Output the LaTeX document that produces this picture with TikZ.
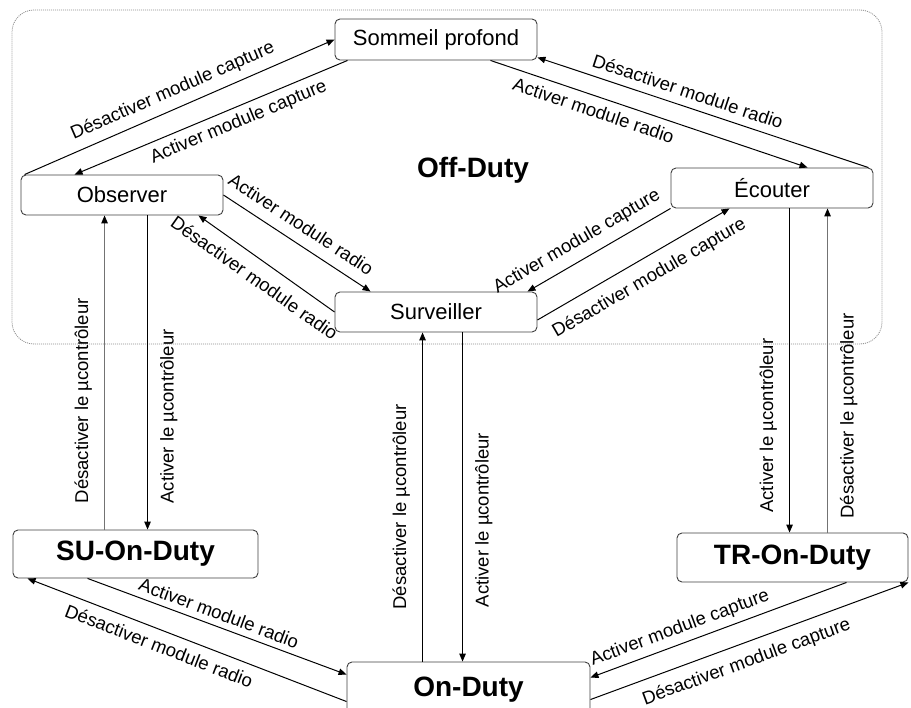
\documentclass[tikz,border=0pt]{standalone}
\usepackage{fontspec}
\setmainfont{Liberation Sans}
\usetikzlibrary{arrows.meta,calc}
\begin{document}
\begin{tikzpicture}[x=1pt,y=-1pt,
  region/.style={draw=black!45, line width=0.8pt, dash pattern=on 1pt off 1pt,
    rounded corners=22pt, minimum width=870pt, minimum height=334pt, inner sep=0pt},
  state/.style={draw=black!75, line width=0.9pt, rounded corners=5pt, fill=white,
    inner sep=0pt, font=\fontsize{22}{26}\selectfont},
  bigstate/.style={state, font=\fontsize{28}{32}\selectfont\bfseries},
  link/.style={draw=black, line width=1pt, -{Triangle[length=8pt,width=6.5pt,color=black]}},
  linkback/.style={draw=black, line width=1pt, {Triangle[length=8pt,width=6.5pt,color=black]}-},
  faint/.style={draw=black!55},
  lbl/.style={sloped, inner sep=3pt, font=\fontsize{18.5}{20}\selectfont},
]
\useasboundingbox (0,0) rectangle (911,708);

% Off-duty region
\node[region] (offduty) at (447,177) {};
\node[font=\fontsize{28}{32}\selectfont\bfseries] (offlabel) at (473,170) {Off-Duty};

% States
\node[state, minimum width=202pt, minimum height=41pt] (som)  at (436,39.5) {Sommeil profond};
\node[state, minimum width=202pt, minimum height=40pt] (obs)  at (122,195)  {Observer};
\node[state, minimum width=202pt, minimum height=40pt] (ec)   at (772,188)  {Écouter};
\node[state, minimum width=202pt, minimum height=40pt] (surv) at (436,312)  {Surveiller};
\node[bigstate, minimum width=245pt, minimum height=48pt] (su) at (135.5,554) {SU-On-Duty};
\node[bigstate, minimum width=231pt, minimum height=49pt] (tronduty) at (792.5,557.5) {TR-On-Duty};
\node[bigstate, minimum width=243pt, minimum height=56pt] (on) at (468.5,690) {On-Duty};

% Observer <-> Sommeil profond
\draw[link] ([xshift=4pt]obs.north west) -- (som.west)
  node[lbl, above=5pt, pos=0.5] {Désactiver module capture};
\draw[linkback] ([xshift=54pt]obs.north west) -- ([xshift=13pt]som.south west)
  node[lbl, below=3pt, pos=0.58] {Activer module capture};

% Sommeil profond <-> Ecouter
\draw[linkback] ([yshift=3pt]som.south east) -- ([xshift=-5pt]ec.north east)
  node[lbl, above=5pt, pos=0.44] {Désactiver module radio};
\draw[link] ([xshift=-47pt]som.south east) -- ([xshift=137pt]ec.north west)
  node[lbl, below=4pt, pos=0.34] {Activer module radio};

% Observer <-> Surveiller
\draw[link] (obs.east) -- ([xshift=36pt]surv.north west)
  node[lbl, above=8pt, pos=0.46] {Activer module radio};
\draw[linkback] ([xshift=-25pt]obs.south east) -- (surv.west)
  node[lbl, below=8pt, pos=0.49] {Désactiver module radio};

% Surveiller <-> Ecouter
\draw[linkback] ([xshift=-10pt]surv.north east) -- (ec.south west)
  node[lbl, above=6pt, pos=0.41] {Activer module capture};
\draw[link] ([yshift=-8pt]surv.east) -- ([xshift=59pt]ec.south west)
  node[lbl, below=8pt, pos=0.53] {Désactiver module capture};

% Vertical links between the off-duty states and the on-duty states
\coordinate (su1) at ([xshift=92pt]su.north west);
\coordinate (su2) at ([xshift=135pt]su.north west);
\coordinate (on1) at ([xshift=76pt]on.north west);
\coordinate (on2) at ([xshift=116pt]on.north west);
\coordinate (tr1) at ([xshift=113pt]tronduty.north west);
\coordinate (tr2) at ([xshift=151pt]tronduty.north west);

\draw[link, faint] (su1) -- (su1 |- obs.south)
  node[lbl, above=9pt, pos=0.41] {Désactiver le µcontrôleur};
\draw[linkback] (su2) -- (su2 |- obs.south)
  node[lbl, below=9pt, pos=0.36] {Activer le µcontrôleur};

\draw[link] (on1) -- (on1 |- surv.south)
  node[lbl, above=9pt, pos=0.47] {Désactiver le µcontrôleur};
\draw[linkback] (on2) -- (on2 |- surv.south)
  node[lbl, below=9pt, pos=0.43] {Activer le µcontrôleur};

\draw[linkback] (tr1) -- (tr1 |- ec.south)
  node[lbl, above=9pt, pos=0.33] {Activer le µcontrôleur};
\draw[link, faint] (tr2) -- (tr2 |- ec.south)
  node[lbl, below=9pt, pos=0.36] {Désactiver le µcontrôleur};

% SU-On-Duty <-> On-Duty
\draw[link] ([xshift=75pt]su.south west) -- ([yshift=-13pt]on.north west)
  node[lbl, above=3pt, pos=0.49] {Activer module radio};
\draw[linkback] ([xshift=15pt]su.south west) -- ([yshift=-40pt]on.north west)
  node[lbl, below=5pt, pos=0.43] {Désactiver module radio};

% On-Duty <-> TR-On-Duty
\draw[linkback] ([yshift=-16pt]on.north east) -- ([xshift=170pt]tronduty.south west)
  node[lbl, above=3pt, pos=0.37] {Activer module capture};
\draw[link] ([yshift=-38pt]on.north east) -- (tronduty.south east)
  node[lbl, below=7pt, pos=0.47] {Désactiver module capture};
\end{tikzpicture}
\end{document}
